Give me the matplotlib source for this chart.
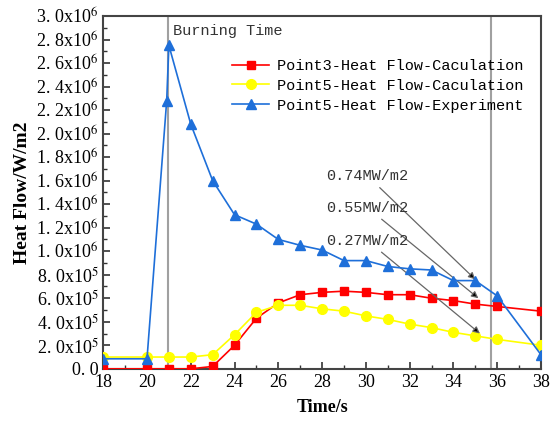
import matplotlib
matplotlib.use("Agg")
import matplotlib.pyplot as plt
from matplotlib.ticker import MultipleLocator, FuncFormatter

plt.rcParams['font.family'] = 'Liberation Serif'
plt.rcParams['mathtext.fontset'] = 'stix'

# data
t_p3 = [18, 20, 21, 22, 23, 24, 25, 26, 27, 28, 29, 30, 31, 32, 33, 34, 35, 36, 38]
q_p3 = [0.0, 0.0, 0.0, 0.0, 0.02e6, 0.20e6, 0.43e6, 0.56e6, 0.63e6, 0.65e6, 0.66e6,
        0.65e6, 0.63e6, 0.63e6, 0.60e6, 0.58e6, 0.55e6, 0.53e6, 0.49e6]

t_p5 = [18, 20, 21, 22, 23, 24, 25, 26, 27, 28, 29, 30, 31, 32, 33, 34, 35, 36, 38]
q_p5 = [0.10e6, 0.10e6, 0.10e6, 0.10e6, 0.12e6, 0.29e6, 0.48e6, 0.54e6, 0.54e6, 0.51e6,
        0.49e6, 0.45e6, 0.42e6, 0.38e6, 0.35e6, 0.31e6, 0.28e6, 0.25e6, 0.20e6]

t_exp = [18, 20, 20.9, 21, 22, 23, 24, 25, 26, 27, 28, 29, 30, 31, 32, 33, 34, 35, 36, 38]
q_exp = [0.085e6, 0.085e6, 2.28e6, 2.75e6, 2.08e6, 1.60e6, 1.31e6, 1.23e6, 1.10e6, 1.05e6,
         1.01e6, 0.92e6, 0.92e6, 0.87e6, 0.85e6, 0.84e6, 0.75e6, 0.75e6, 0.62e6, 0.12e6]

labels = ['Point3-Heat Flow-Caculation', 'Point5-Heat Flow-Caculation',
          'Point5-Heat Flow-Experiment']
burn_t = 20.95
end_t = 35.7

notes = ['0.74MW/m2', '0.55MW/m2', '0.27MW/m2']
note_y = [1.64e6, 1.37e6, 1.09e6]
note_tip = [(35.0, 0.76e6), (35.14, 0.60e6), (35.21, 0.30e6)]

fig = plt.figure(figsize=(5.52, 4.21), dpi=100)
ax = fig.add_axes([0.187, 0.124, 0.793, 0.838])

ax.axvline(burn_t, color='#a0a0a0', lw=1.5, zorder=1)
ax.axvline(end_t, color='#a0a0a0', lw=1.5, zorder=1)

ax.plot(t_p3, q_p3, color='#ff0000', marker='s', ms=6, lw=1.2, label=labels[0], zorder=3)
ax.plot(t_p5, q_p5, color='#ffff00', marker='o', ms=7, lw=1.2, label=labels[1], zorder=3)
ax.plot(t_exp, q_exp, color='#1e6fd9', marker='^', ms=7, lw=1.2, label=labels[2], zorder=4)

ax.set_xlim(18, 38)
ax.set_ylim(0, 3.0e6)
ax.xaxis.set_major_locator(MultipleLocator(2))
ax.xaxis.set_minor_locator(MultipleLocator(1))
ax.yaxis.set_major_locator(MultipleLocator(0.2e6))
ax.yaxis.set_minor_locator(MultipleLocator(0.1e6))


def yfmt(v, pos):
    if abs(v) < 1:
        return '0. 0'
    e = 6 if v >= 0.999e6 else 5
    m = v / 10 ** e
    s = '%.1f' % m
    return s.replace('.', '. ') + 'x10$^{%d}$' % e


ax.yaxis.set_major_formatter(FuncFormatter(yfmt))
ax.tick_params(which='both', direction='in', top=False, right=False, labelsize=13, colors='#333333')
ax.tick_params(which='major', length=5, width=1.2)
ax.tick_params(which='minor', length=3, width=1.0)
for lab in ax.get_xticklabels() + ax.get_yticklabels():
    lab.set_color('black')
for s in ax.spines.values():
    s.set_color('#444444')
    s.set_linewidth(1.5)

ax.set_xlabel('Time/s', fontsize=13, fontweight='bold', labelpad=6)
ax.set_ylabel('Heat Flow/W/m2', fontsize=14, fontweight='bold', labelpad=4)

ax.text(burn_t + 0.25, 2.87e6, 'Burning Time', family='Liberation Mono', fontsize=11,
        va='center', ha='left', color='#333333')

ax.legend(loc='upper left', bbox_to_anchor=(0.295, 0.878), frameon=False,
          prop={'family': 'Liberation Mono', 'size': 11}, handlelength=2.4,
          handletextpad=0.5, labelspacing=0.38, borderaxespad=0, borderpad=0)

for txt, y, tip in zip(notes, note_y, note_tip):
    ax.annotate(txt, xy=tip, xytext=(28.2, y), family='Liberation Mono', fontsize=11,
                va='center', ha='left', color='#333333',
                arrowprops=dict(arrowstyle='-|>', ec='#666666', fc='black', lw=0.9,
                                mutation_scale=10, shrinkA=2, shrinkB=0))

fig.savefig('out.png', dpi=100)
